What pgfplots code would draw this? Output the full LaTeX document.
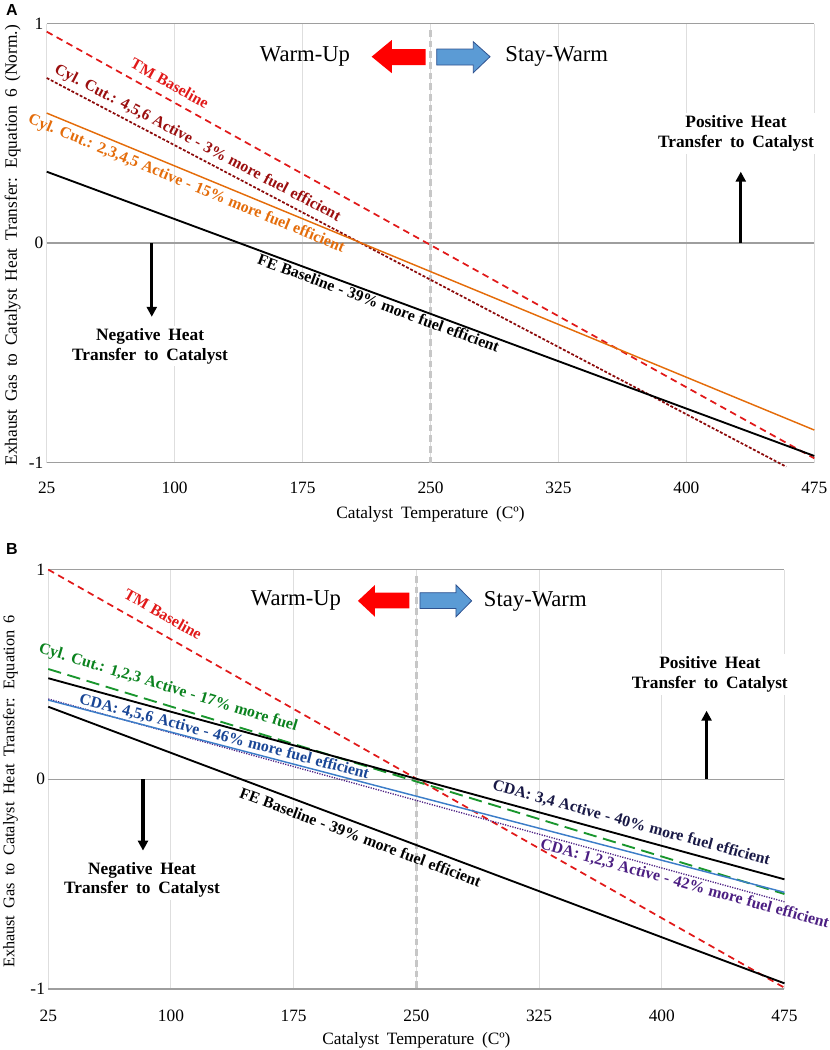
\documentclass[border=0pt]{standalone}
\usepackage{fontspec}
\setmainfont{Liberation Serif}[WordSpace=1.15]
\newfontfamily\widefont{Liberation Serif}[WordSpace=1.8]
\newfontfamily\sansfnt{Liberation Sans}
\usepackage{pgfplots}
\pgfplotsset{compat=1.18}
\usetikzlibrary{arrows.meta}

\definecolor{tmred}{RGB}{225,25,25}
\definecolor{dkred}{RGB}{140,10,10}
\definecolor{dkredtxt}{RGB}{155,15,15}
\definecolor{orng}{RGB}{228,108,10}
\definecolor{grnl}{RGB}{25,150,45}
\definecolor{grnt}{RGB}{10,130,30}
\definecolor{bluel}{RGB}{60,125,200}
\definecolor{bluet}{RGB}{25,70,150}
\definecolor{navy}{RGB}{25,25,70}
\definecolor{purp}{RGB}{75,30,130}
\definecolor{arrblue}{RGB}{91,155,213}
\definecolor{arrblueb}{RGB}{47,82,143}

\tikzset{lbl/.style={font=\fontsize{11.9}{14}\selectfont\bfseries, anchor=base, sloped, inner sep=0pt}}

\pgfplotsset{
 common/.style={
  scale only axis, anchor=south west, clip=false,
  xmin=25,xmax=475,ymin=-1,ymax=1,
  xtick={25,100,175,250,325,400,475}, ytick={-1,0,1},
  axis line style={draw=none}, major tick length=0pt,
  xmajorgrids, ymajorgrids,
  x grid style={color=black!13, line width=0.7pt},
  y grid style={color=black!38, line width=1pt},
  tick label style={font=\fontsize{13}{13}\selectfont},
  /pgf/number format/assume math mode=true,
  xticklabel style={anchor=north, inner sep=0pt, yshift=-14.6pt},
  yticklabel style={anchor=east, inner sep=0pt, xshift=-2.3pt},
  label style={font=\widefont\fontsize{13}{14}\selectfont},
 },
}

\begin{document}
\begin{tikzpicture}
\useasboundingbox (0,0) rectangle (621.75pt,-787.5pt);

% ---------------- Panel A ----------------
\begin{axis}[common,
  at={(35.03pt,-346.9pt)}, width=575.7pt, height=329.25pt,
  xlabel={Catalyst Temperature (Cº)},
  ylabel={Exhaust Gas to Catalyst Heat Transfer: Equation 6 (Norm.)},
  xlabel style={at={(axis description cs:0.5,-0.117)}, anchor=center},
  ylabel style={at={(axis description cs:-0.0443,0.495)}, anchor=center},
]
\addplot[black!22, line width=2pt, dash pattern=on 5pt off 3pt] coordinates {(250,0.97) (250,-1.0)};

\addplot[tmred, line width=1.3pt, dash pattern=on 5pt off 3.5pt] coordinates {(25,0.963) (475,-0.981)}
  node[lbl, pos=0.151, yshift=7pt, text=tmred] {TM Baseline};
\addplot[dkred, line width=1.3pt, dash pattern=on 2.2pt off 1.3pt] coordinates {(25,0.752) (458.5,-1.019)}
  node[lbl, pos=0.196, yshift=6.2pt, text=dkredtxt] {Cyl. Cut.: 4,5,6 Active - 3\% more fuel efficient};
\addplot[orng, line width=1.1pt] coordinates {(25,0.592) (475,-0.852)}
  node[lbl, pos=0.188, yshift=-12.2pt, text=orng] {Cyl. Cut.: 2,3,4,5 Active - 15\% more fuel efficient};
\addplot[black, line width=1.4pt] coordinates {(25,0.325) (475,-0.970)}
  node[lbl, pos=0.436, yshift=-10pt, text=black] {FE Baseline - 39\% more fuel efficient};

\node[font=\fontsize{17}{17}\selectfont] at (176.4,0.849) {Warm-Up};
\node[font=\fontsize{17}{17}\selectfont] at (324,0.849) {Stay-Warm};
\fill[red] (215.5,0.849) -- (227.3,0.925) -- (227.3,0.884) -- (247.2,0.884) -- (247.2,0.811) -- (227.3,0.811) -- (227.3,0.774) -- cycle;
\filldraw[fill=arrblue, draw=arrblueb, line width=0.6pt] (253.6,0.884) -- (275.1,0.884) -- (275.1,0.917) -- (284.9,0.849) -- (275.1,0.776) -- (275.1,0.811) -- (253.6,0.811) -- cycle;

\node[font=\widefont\bfseries\fontsize{13}{15}\selectfont, align=center, fill=white, inner sep=2pt] at (429.1,0.50) {Positive Heat\\Transfer to Catalyst};
\draw[-{Triangle[length=7.5pt,width=7.5pt]}, line width=2.4pt] (431.9,0) -- (431.9,0.325);
\node[font=\widefont\bfseries\fontsize{13}{14.5}\selectfont, align=center, fill=white, inner sep=2pt] at (85.6,-0.47) {Negative Heat\\Transfer to Catalyst};
\draw[-{Triangle[length=7.5pt,width=7.5pt]}, line width=2.4pt] (86.6,0) -- (86.6,-0.336);
\end{axis}

% ---------------- Panel B ----------------
\begin{axis}[common,
  at={(36.2pt,-741.75pt)}, width=552.15pt, height=314.55pt,
  xlabel={Catalyst Temperature (Cº)},
  ylabel={Exhaust Gas to Catalyst Heat Transfer: Equation 6},
  xlabel style={at={(axis description cs:0.5,-0.122)}, anchor=center},
  ylabel style={at={(axis description cs:-0.0513,0.471)}, anchor=center, font=\widefont\fontsize{12.2}{14}\selectfont},
  xticklabel style={yshift=-0.8pt},
]
\addplot[black!22, line width=2pt, dash pattern=on 5pt off 3pt] coordinates {(250,0.97) (250,-1.0)};

\addplot[tmred, line width=1.3pt, dash pattern=on 5pt off 3.5pt] coordinates {(25,1.0) (475,-0.994)}
  node[lbl, pos=0.144, yshift=9.4pt, text=tmred] {TM Baseline};
\addplot[grnl, line width=1.4pt, dash pattern=on 10pt off 5pt] coordinates {(25,0.526) (475,-0.547)}
  node[lbl, pos=0.156, yshift=9.75pt, text=grnt] {Cyl. Cut.: 1,2,3 Active - 17\% more fuel};
\addplot[black, line width=1.4pt] coordinates {(25,0.482) (475,-0.477)}
  node[lbl, pos=0.787, yshift=7pt, text=navy] {CDA: 3,4 Active - 40\% more fuel efficient};
\addplot[purp, line width=1pt, dash pattern=on 0.9pt off 1pt] coordinates {(25,0.383) (475,-0.584)}
  node[lbl, pos=0.868, yshift=-10.5pt, text=purp] {CDA: 1,2,3 Active - 42\% more fuel efficient};
\addplot[bluel, line width=1.1pt] coordinates {(25,0.378) (475,-0.539)}
  node[lbl, pos=0.236, yshift=3.2pt, text=bluet] {CDA: 4,5,6 Active - 46\% more fuel efficient};
\addplot[black, line width=1.4pt] coordinates {(25,0.346) (475,-0.973)}
  node[lbl, pos=0.430, yshift=-13.2pt, text=black] {FE Baseline - 39\% more fuel efficient};

\node[font=\fontsize{17}{17}\selectfont] at (176.4,0.855) {Warm-Up};
\node[font=\fontsize{17}{17}\selectfont] at (322.7,0.85) {Stay-Warm};
\fill[red] (214.3,0.851) -- (224.7,0.927) -- (224.7,0.890) -- (245.7,0.890) -- (245.7,0.815) -- (224.7,0.815) -- (224.7,0.775) -- cycle;
\filldraw[fill=arrblue, draw=arrblueb, line width=0.6pt] (252.2,0.890) -- (274.2,0.890) -- (274.2,0.927) -- (283.8,0.851) -- (274.2,0.775) -- (274.2,0.815) -- (252.2,0.815) -- cycle;

\node[font=\widefont\bfseries\fontsize{13}{14.5}\selectfont, align=center, fill=white, inner sep=2pt] at (429.4,0.50) {Positive Heat\\Transfer to Catalyst};
\draw[-{Triangle[length=7.5pt,width=7.5pt]}, line width=2.4pt] (427.4,0) -- (427.4,0.327);
\node[font=\widefont\bfseries\fontsize{13}{14.5}\selectfont, align=center, fill=white, inner sep=2pt] at (82.3,-0.48) {Negative Heat\\Transfer to Catalyst};
\draw[-{Triangle[length=7.5pt,width=7.5pt]}, line width=2.4pt] (82.9,0) -- (82.9,-0.34);
\end{axis}

\node[font=\sansfnt\bfseries\fontsize{12}{12}\selectfont] at (9pt,-7.5pt) {A};
\node[font=\sansfnt\bfseries\fontsize{12}{12}\selectfont] at (9pt,-411.75pt) {B};
\end{tikzpicture}
\end{document}
